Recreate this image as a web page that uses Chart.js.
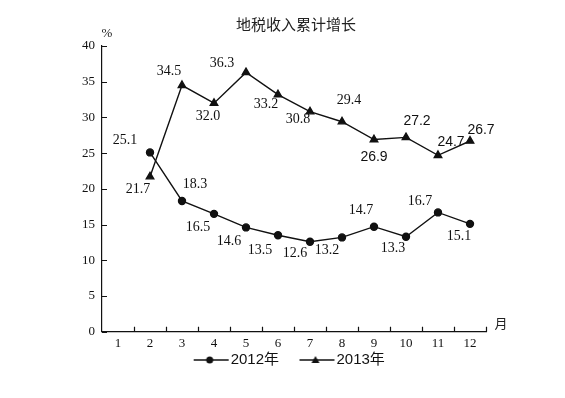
<!DOCTYPE html>
<html>
<head>
<meta charset="utf-8">
<script src="https://cdn.jsdelivr.net/npm/chart.js@4.4.1/dist/chart.umd.min.js"></script>
<style>
  html, body { margin: 0; padding: 0; background: #fff; }
</style>
</head>
<body>
<canvas id="taxChart" width="565" height="398"></canvas>
<script>
// data (month 1 has no value)
const months = ['1', '2', '3', '4', '5', '6', '7', '8', '9', '10', '11', '12'];
const growth2012 = [null, 25.1, 18.3, 16.5, 14.6, 13.5, 12.6, 13.2, 14.7, 13.3, 16.7, 15.1];
const growth2013 = [null, 21.7, 34.5, 32.0, 36.3, 33.2, 30.8, 29.4, 26.9, 27.2, 24.7, 26.7];
const seriesNames = ['2012年', '2013年'];
const chartTitle = '地税收入累计增长';
const yUnit = '%';
const xUnit = '月';

// where each value label sits relative to its point
const labelOffsets2012 = [null, [-25, -12], [13, -17], [-16, 13], [-17, 14], [-18, 15], [-15, 12], [-15, 13], [-13, -16], [-13, 12], [-18, -11], [-11, 12]];
const labelOffsets2013 = [null, [-12, 13], [-13, -14], [-6, 13], [-24, -9], [-12, 10], [-12, 8], [7, -21], [0, 18], [11, -16], [13, -13], [11, -11]];
const sansLabels2013 = [false, false, false, false, false, false, false, false, true, true, true, true];

const ink = '#111';
const serif = '"Liberation Serif", "Noto Sans CJK SC", serif';
const sans = '"Liberation Sans", "Noto Sans CJK SC", sans-serif';

// line + marker swatch for the legend
function legendSwatch(style) {
    const c = document.createElement('canvas');
    c.width = 62;
    c.height = 12;
    const g = c.getContext('2d');
    g.strokeStyle = ink;
    g.fillStyle = ink;
    g.lineWidth = 1.3;
    g.beginPath();
    g.moveTo(26, 6);
    g.lineTo(61, 6);
    g.stroke();
    g.beginPath();
    if (style === 'circle') {
        g.arc(42, 6, 3.5, 0, Math.PI * 2);
    } else {
        g.moveTo(42, 2);
        g.lineTo(46, 9);
        g.lineTo(38, 9);
        g.closePath();
    }
    g.fill();
    return c;
}
const swatches = [legendSwatch('circle'), legendSwatch('triangle')];

const extrasPlugin = {
    id: 'extras',
    afterDatasetsDraw(chart) {
        const ctx = chart.ctx;
        const offsets = [labelOffsets2012, labelOffsets2013];
        ctx.save();
        ctx.fillStyle = ink;
        ctx.textAlign = 'center';
        ctx.textBaseline = 'middle';
        chart.data.datasets.forEach((ds, d) => {
            const meta = chart.getDatasetMeta(d);
            meta.data.forEach((pt, i) => {
                if (ds.data[i] === null) return;
                const off = offsets[d][i];
                const useSans = d === 1 && sansLabels2013[i];
                ctx.font = useSans ? '14px ' + sans : '14px ' + serif;
                ctx.fillText(ds.data[i].toFixed(1), pt.x + off[0], pt.y + off[1]);
            });
        });
        ctx.restore();
    },
    afterDraw(chart) {
        const ctx = chart.ctx;
        const area = chart.chartArea;
        const xs = chart.scales.x;
        const ys = chart.scales.y;
        ctx.save();
        ctx.strokeStyle = ink;
        ctx.lineWidth = 1.2;
        // inward tick marks
        ctx.beginPath();
        ys.ticks.forEach(t => {
            const y = Math.round(ys.getPixelForValue(t.value)) + 0.5;
            ctx.moveTo(area.left, y);
            ctx.lineTo(area.left + 5, y);
        });
        for (let i = 0; i < months.length; i++) {
            const x = Math.round(xs.getPixelForValue(i + 0.5)) + 0.5;
            ctx.moveTo(x, area.bottom);
            ctx.lineTo(x, area.bottom - 5);
        }
        ctx.stroke();

        ctx.fillStyle = '#222';
        ctx.textAlign = 'center';
        ctx.textBaseline = 'middle';
        ctx.font = '15px "Noto Sans CJK SC", sans-serif';
        ctx.fillText(chartTitle, (area.left + area.right) / 2 + 2, area.top - 22);
        ctx.font = '13px ' + serif;
        ctx.fillText(yUnit, area.left + 5, area.top - 12);
        ctx.font = '13px "Noto Sans CJK SC", sans-serif';
        ctx.fillText(xUnit, area.right + 15, area.bottom - 9);
        ctx.restore();
    }
};

const ctx = document.getElementById('taxChart').getContext('2d');
new Chart(ctx, {
    type: 'line',
    data: {
        labels: months,
        datasets: [{
            label: seriesNames[0],
            data: growth2012,
            borderColor: ink,
            backgroundColor: ink,
            borderWidth: 1.4,
            pointStyle: 'circle',
            pointRadius: 3.5,
            pointHoverRadius: 3.5,
            tension: 0
        }, {
            label: seriesNames[1],
            data: growth2013,
            borderColor: ink,
            backgroundColor: ink,
            borderWidth: 1.4,
            pointStyle: 'triangle',
            pointRadius: 4.3,
            pointHoverRadius: 4.3,
            tension: 0
        }]
    },
    options: {
        responsive: false,
        animation: false,
        layout: {
            padding: { left: 0, top: 46, right: 6, bottom: 20.5 }
        },
        scales: {
            x: {
                type: 'category',
                offset: true,
                grid: { display: false, drawTicks: false },
                border: { display: true, color: ink, width: 1.2 },
                ticks: {
                    font: { family: serif, size: 13 },
                    color: ink,
                    padding: 4.5,
                    maxRotation: 0,
                    autoSkip: false
                },
                afterFit(scale) { scale.height = 19.8; }
            },
            y: {
                min: 0,
                max: 40,
                grid: { display: false, drawTicks: false },
                border: { display: true, color: ink, width: 1.2 },
                ticks: {
                    stepSize: 5,
                    font: { family: serif, size: 13 },
                    color: ink,
                    padding: 7
                },
                afterFit(scale) { scale.width = 102; }
            },
            yRight: {
                position: 'right',
                grid: { display: false, drawTicks: false },
                border: { display: false },
                ticks: { display: false },
                afterFit(scale) { scale.width = 73; }
            }
        },
        plugins: {
            legend: {
                position: 'bottom',
                labels: {
                    usePointStyle: true,
                    pointStyleWidth: 49,
                    boxHeight: 12,
                    padding: 1,
                    color: ink,
                    font: { family: sans, size: 15 },
                    generateLabels(chart) {
                        const items = Chart.defaults.plugins.legend.labels.generateLabels(chart);
                        items.forEach((item, i) => { item.pointStyle = swatches[i]; });
                        return items;
                    }
                }
            },
            title: { display: false },
            tooltip: { enabled: false }
        }
    },
    plugins: [extrasPlugin]
});
</script>
</body>
</html>
